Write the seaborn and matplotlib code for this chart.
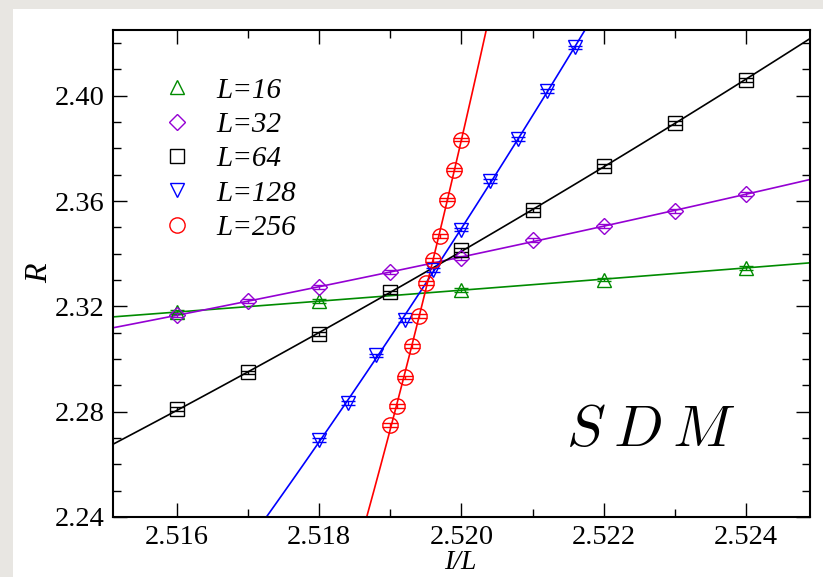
import numpy as np
import matplotlib
matplotlib.use("Agg")
import matplotlib.pyplot as plt
from matplotlib.ticker import MultipleLocator, FormatStrFormatter
from matplotlib.patches import Rectangle
from matplotlib.lines import Line2D
import seaborn as sns

# ---------------- data ----------------
x16 = [2.516, 2.518, 2.520, 2.522, 2.524]
y16 = [2.3178, 2.3221, 2.3262, 2.3302, 2.3347]

x32 = [2.516, 2.517, 2.518, 2.519, 2.520, 2.521, 2.522, 2.523, 2.524]
y32 = [2.3167, 2.3220, 2.3274, 2.3331, 2.3384, 2.3452, 2.3505, 2.3562, 2.3627]

x64 = [2.516, 2.517, 2.518, 2.519, 2.520, 2.521, 2.522, 2.523, 2.524]
y64 = [2.2810, 2.2949, 2.3095, 2.3253, 2.3414, 2.3566, 2.3734, 2.3897, 2.4060]

x128 = [2.5180, 2.5184, 2.5188, 2.5192, 2.5196, 2.5200, 2.5204, 2.5208, 2.5212, 2.5216]
y128 = [2.2692, 2.2834, 2.3014, 2.3148, 2.3338, 2.3492, 2.3676, 2.3835, 2.4018, 2.4184]

x256 = [2.5190, 2.5191, 2.5192, 2.5193, 2.5194, 2.5195, 2.5196, 2.5197, 2.5198, 2.5199, 2.5200]
y256 = [2.2750, 2.2821, 2.2930, 2.3050, 2.3163, 2.3290, 2.3376, 2.3468, 2.3606, 2.3720, 2.3834]

err = 0.0007

series = [
    ("L=16", x16, y16, "^", "#008b00"),
    ("L=32", x32, y32, "D", "#9400d3"),
    ("L=64", x64, y64, "s", "#000000"),
    ("L=128", x128, y128, "v", "#0000ff"),
    ("L=256", x256, y256, "o", "#ff0000"),
]
marker_sizes = {"^": 10.5, "D": 8.5, "s": 10, "v": 10.5, "o": 11}

# ---------------- style ----------------
sns.set_theme(style="ticks")
plt.rcParams["font.family"] = ["Liberation Serif", "DejaVu Serif"]
plt.rcParams["mathtext.fontset"] = "cm"
plt.rcParams["text.color"] = "black"
plt.rcParams["axes.labelcolor"] = "black"

fig = plt.figure(figsize=(8.23, 5.77), dpi=100, facecolor="white")
# grey strips at left and top of the page
fig.patches.append(Rectangle((0, 0), 13 / 823, 1, transform=fig.transFigure,
                             facecolor="#e8e6e2", edgecolor="none", zorder=-5))
fig.patches.append(Rectangle((0, 1 - 9 / 577), 1, 9 / 577, transform=fig.transFigure,
                             facecolor="#e8e6e2", edgecolor="none", zorder=-5))
ax = fig.add_axes([113 / 823, 1 - 517 / 577, (810 - 113) / 823, (517 - 30) / 577])
ax.set_facecolor("white")

xlim = (2.51510, 2.52490)
ylim = (2.24, 2.425)
ax.set_xlim(*xlim)
ax.set_ylim(*ylim)

handles = []
for label, xs, ys, mk, col in series:
    sns.regplot(x=np.array(xs), y=np.array(ys), ax=ax, scatter=False, ci=None,
                order=2, truncate=False, color=col,
                line_kws={"lw": 1.2, "zorder": 2})
    ax.errorbar(xs, ys, yerr=err, fmt="none", ecolor=col, elinewidth=1.0,
                capsize=marker_sizes[mk] * 0.5, capthick=1.0, zorder=3)
    ax.plot(xs, ys, linestyle="none", marker=mk, markersize=marker_sizes[mk],
            markerfacecolor="none", markeredgecolor=col, markeredgewidth=1.0,
            zorder=4)
    handles.append(Line2D([], [], linestyle="none", marker=mk,
                          markersize=marker_sizes[mk], markerfacecolor="none",
                          markeredgecolor=col, markeredgewidth=1.0, label=label))

ax.set_xlim(*xlim)
ax.set_ylim(*ylim)

# ticks
ax.xaxis.set_major_locator(MultipleLocator(0.002))
ax.xaxis.set_minor_locator(MultipleLocator(0.001))
ax.yaxis.set_major_locator(MultipleLocator(0.04))
ax.yaxis.set_minor_locator(MultipleLocator(0.01))
ax.xaxis.set_major_formatter(FormatStrFormatter("%.3f"))
ax.yaxis.set_major_formatter(FormatStrFormatter("%.2f"))
ax.tick_params(which="both", direction="in", top=True, right=True,
               labelsize=20.5, colors="black", width=1.0)
ax.tick_params(which="major", length=10, pad=6)
ax.tick_params(which="minor", length=6)
for sp in ax.spines.values():
    sp.set_linewidth(1.5)
    sp.set_color("black")
    sp.set_visible(True)

ax.set_xlabel("I/L", fontsize=20, style="italic", color="black")
ax.set_ylabel("R", fontsize=23, style="italic", color="black")
ax.xaxis.set_label_coords(0.498, -0.068)
ax.yaxis.set_label_coords(-0.084, 0.5)

ax.legend(handles=handles, loc="upper left", bbox_to_anchor=(0.071, 0.903),
          frameon=False, borderaxespad=0, borderpad=0, handlelength=1.0,
          handletextpad=0.86, labelspacing=0.27, labelcolor="black",
          prop={"family": "Liberation Serif", "style": "italic", "size": 21})

ax.text(0.772, 0.175, r"$S\:D\:M$", transform=ax.transAxes, fontsize=42,
        ha="center", va="center", color="black")

fig.savefig("out.png", dpi=100, facecolor=fig.get_facecolor())
